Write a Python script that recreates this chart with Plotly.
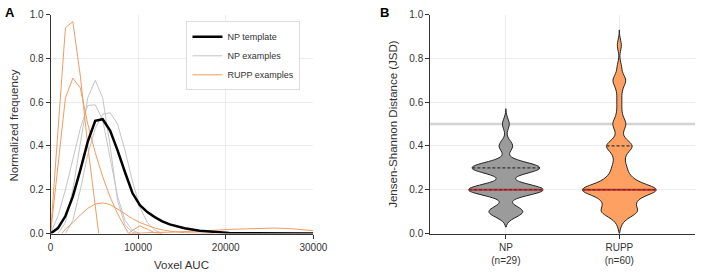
import numpy as np
import plotly.graph_objects as go

# ---------------- Panel A data ----------------
np_template_x = [0, 850, 1700, 2550, 3400, 4250, 5100, 5950, 6800, 7650, 8500, 9350, 10200, 11050,
                 11900, 12750, 13600, 14450, 15300, 17000, 18700, 20400, 22100, 25500, 30000]
np_template_y = [0, 0.025, 0.08, 0.17, 0.29, 0.42, 0.515, 0.522, 0.47, 0.38, 0.28, 0.185, 0.13, 0.098,
                 0.075, 0.056, 0.042, 0.032, 0.024, 0.013, 0.007, 0.003, 0.0015, 0.0, 0.0]

np_ex1_x = [850, 1700, 2550, 3400, 4250, 5100, 5950, 6800, 7650, 8500, 9350, 10200]
np_ex1_y = [0, 0.05, 0.2, 0.42, 0.62, 0.70, 0.62, 0.40, 0.15, 0.04, 0.005, 0]

np_ex2_x = [0, 850, 1700, 2550, 3400, 4250, 5100, 5950, 6800, 7650, 8500, 9350, 10200]
np_ex2_y = [0, 0.08, 0.2, 0.34, 0.48, 0.585, 0.588, 0.52, 0.35, 0.17, 0.06, 0.015, 0]

np_ex3_x = [1700, 2550, 3400, 4250, 5100, 5950, 6800, 7650, 8500, 9350, 10200, 11050, 11900, 12750]
np_ex3_y = [0, 0.06, 0.2, 0.36, 0.48, 0.545, 0.552, 0.5, 0.38, 0.24, 0.12, 0.05, 0.015, 0]

rupp_ex1_x = [0, 1700, 2550, 3400, 4250, 5100, 5500]
rupp_ex1_y = [0, 0.94, 0.968, 0.72, 0.4, 0.12, 0]

rupp_ex2_x = [0, 1700, 2550, 3400, 4250, 5100, 5950, 6800, 7650, 8500, 8900, 9350, 10200, 11050, 11900, 12750]
rupp_ex2_y = [0, 0.62, 0.71, 0.665, 0.5, 0.37, 0.26, 0.167, 0.09, 0.03, 0, 0.015, 0.035, 0.02, 0.003, 0]

rupp_ex3_x = [1300, 1700, 2550, 3400, 4250, 5100, 5950, 6800, 7650, 8500, 9350, 10200, 11050, 11900,
              12750, 13600, 15300, 17000, 18700]
rupp_ex3_y = [0, 0.02, 0.05, 0.085, 0.115, 0.135, 0.14, 0.132, 0.112, 0.088, 0.068, 0.05, 0.036, 0.025,
              0.017, 0.011, 0.004, 0.001, 0]

rupp_ex4_x = [9000, 10200, 11900, 13600, 15300, 17000, 18700, 20400, 22100, 23800, 25500, 27200, 28900, 30000]
rupp_ex4_y = [0, 0.003, 0.005, 0.006, 0.008, 0.011, 0.015, 0.019, 0.022, 0.024, 0.025, 0.023, 0.018, 0.013]

# ---------------- Panel B data ----------------
np_jsd = [0.10, 0.10, 0.10, 0.10, 0.10,
          0.20, 0.20, 0.20, 0.20, 0.20, 0.20, 0.20, 0.20, 0.20, 0.20, 0.20,
          0.30, 0.30, 0.30, 0.30, 0.30, 0.30, 0.30, 0.30, 0.30, 0.30,
          0.40, 0.40, 0.50]
rupp_jsd = [0.05,
            0.10, 0.10, 0.10, 0.10, 0.10, 0.10, 0.10, 0.10,
            0.15, 0.15, 0.15, 0.15, 0.15, 0.15,
            0.20, 0.20, 0.20, 0.20, 0.20, 0.20, 0.20, 0.20, 0.20, 0.20, 0.20, 0.20, 0.20, 0.20, 0.20, 0.20, 0.20,
            0.25, 0.25, 0.25, 0.25, 0.25,
            0.30, 0.30, 0.30,
            0.35, 0.35,
            0.40, 0.40, 0.40, 0.40, 0.40, 0.40,
            0.45,
            0.50, 0.50, 0.50,
            0.55, 0.60, 0.65,
            0.70, 0.70, 0.70,
            0.76, 0.86]
np_quartiles = [0.2, 0.2, 0.3]     # Q1, median, Q3
rupp_quartiles = [0.2, 0.2, 0.4]
threshold = [0.5]
group_labels = ["NP<br>(n=29)", "RUPP<br>(n=60)"]

FONT = "Liberation Sans, Arial, Helvetica, sans-serif"
GRAY = "#c4c4c4"
ORANGE = "#ef9c62"
BW = 0.025
VWIDTH = 0.65
np_span = [0.03, 0.57]
rupp_span = [0.0, 0.93]

fig = go.Figure()

for i, (xs, ys) in enumerate([(np_ex1_x, np_ex1_y), (np_ex2_x, np_ex2_y), (np_ex3_x, np_ex3_y)]):
    fig.add_trace(go.Scatter(x=xs, y=ys, mode="lines", line=dict(color=GRAY, width=1),
                             name="NP examples", showlegend=(i == 0), legendrank=2,
                             xaxis="x", yaxis="y"))
for i, (xs, ys) in enumerate([(rupp_ex1_x, rupp_ex1_y), (rupp_ex2_x, rupp_ex2_y),
                              (rupp_ex3_x, rupp_ex3_y), (rupp_ex4_x, rupp_ex4_y)]):
    fig.add_trace(go.Scatter(x=xs, y=ys, mode="lines", line=dict(color=ORANGE, width=1),
                             name="RUPP examples", showlegend=(i == 0), legendrank=3,
                             xaxis="x", yaxis="y"))
fig.add_trace(go.Scatter(x=np_template_x, y=np_template_y, mode="lines",
                         line=dict(color="black", width=2.5), name="NP template",
                         legendrank=1, xaxis="x", yaxis="y"))

# violins
for pos, vals, span, fill in [(0, np_jsd, np_span, "#9b9b9b"), (1, rupp_jsd, rupp_span, "#ffa063")]:
    fig.add_trace(go.Violin(y=vals, x0=pos, name=group_labels[pos], showlegend=False,
                            bandwidth=BW, spanmode="manual", span=span, width=VWIDTH,
                            scalemode="width", fillcolor=fill, line=dict(color="#222", width=1),
                            points=False, box_visible=False, meanline_visible=False,
                            opacity=1, xaxis="x2", yaxis="y2"))

shapes = []
# threshold line
shapes.append(dict(type="line", xref="x2 domain", yref="y2", x0=0, x1=1, y0=threshold[0], y1=threshold[0],
                   line=dict(color="#d3d3d3", width=2.5), layer="below"))


def kde(vals, y):
    v = np.asarray(vals)
    return np.exp(-0.5 * ((y - v) / BW) ** 2).sum()


for pos, vals, span, qs in [(0, np_jsd, np_span, np_quartiles), (1, rupp_jsd, rupp_span, rupp_quartiles)]:
    grid = np.linspace(span[0], span[1], 600)
    dmax = max(kde(vals, g) for g in grid)
    for k, q in enumerate(qs):
        hw = VWIDTH / 2 * kde(vals, q) / dmax
        if k == 1:
            shapes.append(dict(type="line", xref="x2", yref="y2", x0=pos - hw, x1=pos + hw, y0=q, y1=q,
                               line=dict(color="#d42a2a", width=2)))
            shapes.append(dict(type="line", xref="x2", yref="y2", x0=pos - hw, x1=pos + hw, y0=q, y1=q,
                               line=dict(color="#333", width=1.2, dash="3px,2px")))
        elif k == 2 or q != qs[1]:
            shapes.append(dict(type="line", xref="x2", yref="y2", x0=pos - hw, x1=pos + hw, y0=q, y1=q,
                               line=dict(color="#333", width=1.2, dash="3px,2px")))

W, H = 709, 277
ydom = [(H - 238) / H, (H - 10) / H]
axis_common = dict(showline=True, linecolor="#333", linewidth=1, ticks="outside", ticklen=4,
                   tickcolor="#333", tickfont=dict(family=FONT, size=10, color="#333"),
                   gridcolor="#ececec", gridwidth=1, zeroline=False)

fig.update_layout(
    width=W, height=H, margin=dict(l=0, r=0, t=0, b=0),
    paper_bgcolor="white", plot_bgcolor="white",
    font=dict(family=FONT, color="#333"),
    xaxis=dict(domain=[48.7 / W, 318 / W], range=[0, 30000], tickvals=[0, 10000, 20000, 30000],
               tickformat="d", anchor="y", **axis_common),
    yaxis=dict(domain=ydom, range=[0, 1], dtick=0.2, tickformat=".1f", anchor="x", **axis_common),
    xaxis2=dict(domain=[437.7 / W, 1.0], range=[-0.667, 1.667], tickvals=[0, 1], ticktext=group_labels,
                anchor="y2", **axis_common),
    yaxis2=dict(domain=ydom, range=[0, 1], dtick=0.2, tickformat=".1f", anchor="x2", **axis_common),
    legend=dict(x=188 / W, y=1 - 17 / H, xanchor="left", yanchor="top", bgcolor="white",
                bordercolor="#dddddd", borderwidth=1, font=dict(family=FONT, size=9, color="#333"),
                traceorder="normal"),
    shapes=shapes,
    showlegend=True,
    annotations=[
        dict(text="Voxel AUC", x=183 / W, y=1 - 271 / H, xref="paper", yref="paper", showarrow=False,
             xanchor="center", yanchor="middle", font=dict(family=FONT, size=11.5, color="#333")),
        dict(text="Normalized frequency", x=11.7 / W, y=1 - 125 / H, xref="paper", yref="paper",
             showarrow=False, textangle=-90, xanchor="center", yanchor="middle",
             font=dict(family=FONT, size=11.5, color="#333")),
        dict(text="Jensen-Shannon Distance (JSD)", x=399.3 / W, y=1 - 124 / H, xref="paper", yref="paper",
             showarrow=False, textangle=-90, xanchor="center", yanchor="middle",
             font=dict(family=FONT, size=11.5, color="#333")),
        dict(text="<b>A</b>", x=7 / W, y=1 - 8 / H, xref="paper", yref="paper", showarrow=False,
             xanchor="center", yanchor="middle", font=dict(family=FONT, size=13, color="black")),
        dict(text="<b>B</b>", x=391 / W, y=1 - 8 / H, xref="paper", yref="paper", showarrow=False,
             xanchor="center", yanchor="middle", font=dict(family=FONT, size=13, color="black")),
    ],
)

fig.write_html("out.html")
